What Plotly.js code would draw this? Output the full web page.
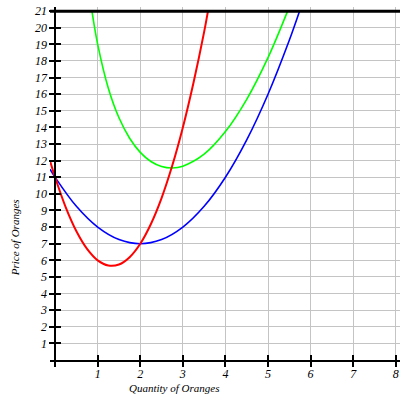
<!DOCTYPE html>
<html>
<head>
<meta charset="utf-8">
<script src="https://cdn.plot.ly/plotly-3.0.1.min.js"></script>
<style>
  html, body { margin: 0; padding: 0; background: #fff; }
  #cost_chart { width: 400px; height: 400px; }
</style>
</head>
<body>
<div id="cost_chart"></div>
<script>
// values
var mc_x  = [-0.12, 0, 0.25, 0.5, 0.75, 1, 1.25, 1.5, 1.75, 2, 2.25, 2.5, 2.75, 3, 3.25, 3.5, 3.59]
var mc_y  = [12.0, 11, 9.19, 7.75, 6.69, 6, 5.69, 5.75, 6.19, 7, 8.19, 9.75, 11.69, 14, 16.69, 19.75, 21]

var avc_x = [-0.12, 0, 0.5, 1, 1.5, 2, 2.5, 3, 3.5, 4, 4.5, 5, 5.5, 5.74]
var avc_y = [11.49, 11, 9.25, 8, 7.25, 7, 7.25, 8, 9.25, 11, 13.25, 16, 19.25, 21]

var atc_x = [0.865, 1, 1.25, 1.5, 1.75, 2, 2.25, 2.5, 2.75, 3, 3.5, 4, 4.5, 5, 5.46]
var atc_y = [21, 19, 16.36, 14.58, 13.35, 12.5, 11.95, 11.65, 11.56, 11.67, 12.39, 13.75, 15.69, 18.2, 21]

var x_ticks = [0, 1, 2, 3, 4, 5, 6, 7, 8]
var x_text  = ['', '1', '2', '3', '4', '5', '6', '7', '8']
var y_ticks = [1, 2, 3, 4, 5, 6, 7, 8, 9, 10, 11, 12, 13, 14, 15, 16, 17, 18, 19, 20, 21]
var price_cap = 21

var x_range = [-0.12, 8.1]
var y_range = [0, 21.25]
var y_pos = (0 - x_range[0]) / (x_range[1] - x_range[0])

var serif = {family: 'Liberation Serif', size: 11, style: 'italic', color: 'black'}
var tick_font = {family: 'Liberation Serif', size: 12, style: 'italic', color: 'black'}

function curve(xs, ys, color, width) {
    return {
        x: xs,
        y: ys,
        type: 'scatter',
        mode: 'lines',
        line: {color: color, width: width, shape: 'spline'},
        hoverinfo: 'skip',
        showlegend: false
    }
}

var data = [
    curve(avc_x, avc_y, '#0000ff', 1.6),
    curve(atc_x, atc_y, '#00ff00', 1.6),
    curve(mc_x, mc_y, '#ff0000', 2),
    curve([x_range[0], x_range[1]], [price_cap, price_cap], 'black', 3),
    // empty trace so the overlay axes (inside half of the ticks) get drawn
    {x: [], y: [], xaxis: 'x2', yaxis: 'y2', type: 'scatter', showlegend: false}
]

var layout = {
    width: 400,
    height: 400,
    margin: {t: 7, l: 50, r: 0, b: 40, pad: 0},
    paper_bgcolor: 'white',
    plot_bgcolor: 'white',
    showlegend: false,
    font: serif,
    xaxis: {
        range: x_range.slice(),
        tickmode: 'array',
        tickvals: x_ticks,
        ticktext: x_text,
        ticks: 'outside',
        ticklen: 5,
        tickwidth: 1.5,
        tickcolor: 'black',
        tickfont: tick_font,
        ticklabelstandoff: -3,
        showline: true,
        linecolor: 'black',
        linewidth: 1.5,
        showgrid: true,
        gridcolor: '#c4c4c4',
        gridwidth: 1,
        zeroline: false,
        fixedrange: true
    },
    yaxis: {
        range: y_range.slice(),
        anchor: 'free',
        position: y_pos,
        tickmode: 'array',
        tickvals: y_ticks,
        ticks: 'outside',
        ticklen: 5,
        tickwidth: 1.5,
        tickcolor: 'black',
        tickfont: tick_font,
        showline: true,
        linecolor: 'black',
        linewidth: 1.5,
        showgrid: true,
        gridcolor: '#c4c4c4',
        gridwidth: 1,
        zeroline: false,
        fixedrange: true
    },
    xaxis2: {
        overlaying: 'x',
        anchor: 'y',
        range: x_range.slice(),
        tickmode: 'array',
        tickvals: x_ticks,
        ticks: 'inside',
        ticklen: 5,
        tickwidth: 1.5,
        tickcolor: 'black',
        showticklabels: false,
        showgrid: false,
        showline: false,
        zeroline: false,
        fixedrange: true
    },
    yaxis2: {
        overlaying: 'y',
        anchor: 'free',
        position: y_pos,
        range: y_range.slice(),
        tickmode: 'array',
        tickvals: y_ticks,
        ticks: 'inside',
        ticklen: 5,
        tickwidth: 1.5,
        tickcolor: 'black',
        showticklabels: false,
        showgrid: false,
        showline: false,
        zeroline: false,
        fixedrange: true
    },
    annotations: [{
        text: 'Quantity of Oranges',
        xref: 'paper', yref: 'paper',
        x: 0.354, y: -0.08,
        xanchor: 'center', yanchor: 'middle',
        showarrow: false,
        font: serif
    }, {
        text: 'Price of Oranges',
        xref: 'paper', yref: 'paper',
        x: -0.1, y: 0.345,
        xanchor: 'center', yanchor: 'middle',
        textangle: -90,
        showarrow: false,
        font: serif
    }]
}

Plotly.newPlot('cost_chart', data, layout, {displayModeBar: false, showTips: false})
</script>
</body>
</html>
